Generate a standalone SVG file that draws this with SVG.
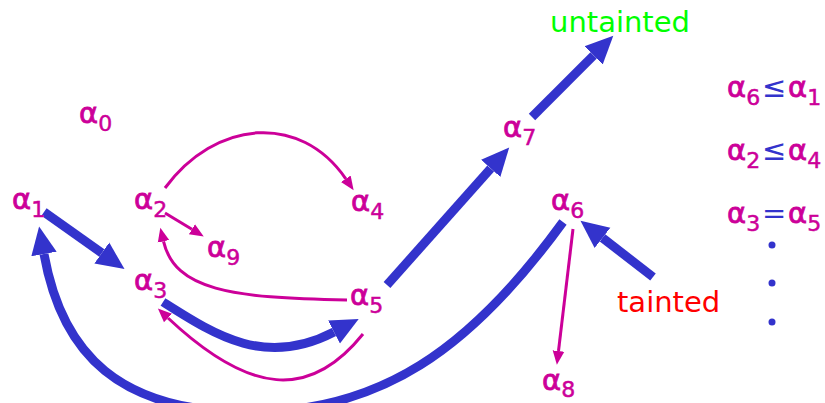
<svg xmlns="http://www.w3.org/2000/svg" width="825" height="403" viewBox="0 0 825 403">
<style>
.a{font-family:"DejaVu Sans",Verdana,sans-serif;font-size:29px;fill:#CC0099;stroke:#CC0099;stroke-width:0.8}
.s{font-size:22px;stroke-width:0.5}
.op{fill:#3333CC;stroke:none}
.w{font-family:"DejaVu Sans",Verdana,sans-serif;font-size:29px}
.b{fill:none;stroke:#3333CC;stroke-width:9}
.m{fill:none;stroke:#CC0099;stroke-width:3}
</style>
<defs>
<marker id="hb" markerUnits="userSpaceOnUse" markerWidth="30" markerHeight="30" viewBox="0 -13 28 26" refX="0" refY="0" orient="auto">
<path d="M0,-12 L26,0 L0,12 z" fill="#3333CC"/>
</marker>
<marker id="hm" markerUnits="userSpaceOnUse" markerWidth="16" markerHeight="16" viewBox="0 -7 15 14" refX="0" refY="0" orient="auto">
<path d="M0,-5.5 L13,0 L0,5.5 z" fill="#CC0099"/>
</marker>
</defs>
<g id="connectors">
<path class="b" d="M44,212 L101.8,253" marker-end="url(#hb)"/>
<path class="b" d="M163,302 C215,335 265,368 334,332" marker-end="url(#hb)"/>
<path class="b" d="M387,285 L490.7,168.4" marker-end="url(#hb)"/>
<path class="b" d="M532,117 L593.6,55.4" marker-end="url(#hb)"/>
<path class="b" d="M563,222 C470,350 380,412 250,412 C120,412 62,355 44,254" marker-end="url(#hb)"/>
<path class="b" d="M653,277 L602.5,237.9" marker-end="url(#hb)"/>
<path class="m" d="M165,188 C215,120 300,112 345.8,178.8" marker-end="url(#hm)"/>
<path class="m" d="M165,213 L191.9,229.3" marker-end="url(#hm)"/>
<path class="m" d="M347,300 C230,298 175,290 163.5,241.3" marker-end="url(#hm)"/>
<path class="m" d="M363,334 C310,400 250,395 168,318" marker-end="url(#hm)"/>
<path class="m" d="M573,229 L558.5,351" marker-end="url(#hm)"/>
</g>
<g id="a0"><text class="a" x="79" y="123">α<tspan class="s" dy="8">0</tspan></text></g>
<g id="a1"><text class="a" x="12" y="209">α<tspan class="s" dy="8">1</tspan></text></g>
<g id="a2"><text class="a" x="134" y="209">α<tspan class="s" dy="8">2</tspan></text></g>
<g id="a9"><text class="a" x="207" y="257">α<tspan class="s" dy="8">9</tspan></text></g>
<g id="a3"><text class="a" x="134" y="290">α<tspan class="s" dy="8">3</tspan></text></g>
<g id="a4"><text class="a" x="351" y="211">α<tspan class="s" dy="8">4</tspan></text></g>
<g id="a5"><text class="a" x="350" y="305">α<tspan class="s" dy="8">5</tspan></text></g>
<g id="a6"><text class="a" x="551" y="210">α<tspan class="s" dy="8">6</tspan></text></g>
<g id="a7"><text class="a" x="503" y="137">α<tspan class="s" dy="8">7</tspan></text></g>
<g id="a8"><text class="a" x="542" y="390">α<tspan class="s" dy="7">8</tspan></text></g>
<g id="untainted"><text class="w" x="550" y="32" fill="#00FF00" textLength="140" lengthAdjust="spacing">untainted</text></g>
<g id="tainted"><text class="w" x="617" y="312" fill="#FF0000">tainted</text></g>
<g id="constraints">
<text class="a" x="727" y="97">α<tspan class="s" dy="8">6</tspan><tspan class="op" x="762" dy="-8">≤</tspan><tspan x="788">α</tspan><tspan class="s" dy="8">1</tspan></text>
<text class="a" x="727" y="160">α<tspan class="s" dy="8">2</tspan><tspan class="op" x="762" dy="-8">≤</tspan><tspan x="788">α</tspan><tspan class="s" dy="8">4</tspan></text>
<text class="a" x="727" y="223">α<tspan class="s" dy="8">3</tspan><tspan class="op" x="762" dy="-8">=</tspan><tspan x="788">α</tspan><tspan class="s" dy="8">5</tspan></text>
<circle cx="772" cy="245" r="3.5" fill="#3333CC"/>
<circle cx="772" cy="283" r="3.5" fill="#3333CC"/>
<circle cx="772" cy="322" r="3.5" fill="#3333CC"/>
</g>
</svg>
